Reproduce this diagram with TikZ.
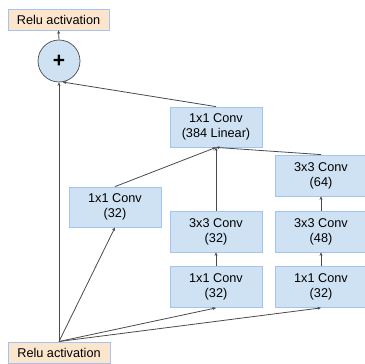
\documentclass[tikz,border=0pt]{standalone}
\usepackage{fontspec}
\setmainfont{Liberation Sans}
\usetikzlibrary{arrows.meta}
\definecolor{boxfill}{HTML}{CFE2F3}
\definecolor{boxline}{HTML}{A4C2F4}
\definecolor{relufill}{HTML}{FCE5CD}
\definecolor{linecol}{HTML}{4A4A4A}
\begin{document}
\begin{tikzpicture}[x=1pt,y=-1pt,
  conv/.style={draw=boxline, fill=boxfill, line width=0.8pt, minimum width=92pt, minimum height=40pt, inner sep=0pt, align=center, font=\fontsize{12.7}{15}\selectfont},
  relu/.style={draw=boxline, fill=relufill, line width=0.8pt, minimum width=101pt, minimum height=21pt, inner sep=0pt, font=\fontsize{12.7}{15}\selectfont},
  conn/.style={draw=linecol, line width=0.8pt, -{Stealth[length=3.5pt,width=3pt]}}]
\useasboundingbox (0,0) rectangle (364,364);
\fill[white] (0,0) rectangle (364,364);
\node[relu] (rtop) at (58.5,19.5) {Relu activation};
\node[circle, draw=linecol, fill=boxfill, line width=0.7pt, minimum size=42pt, inner sep=0pt, font=\fontsize{21}{21}\selectfont\bfseries] (plus) at (59,61) {+};
\node[conv] (c384) at (216,127) {1x1 Conv\\(384 Linear)};
\node[conv] (cl) at (115,207) {1x1 Conv\\(32)};
\node[conv, minimum height=41pt] (c33a) at (216,231.5) {3x3 Conv\\(32)};
\node[conv, minimum height=41pt] (c11a) at (216,287) {1x1 Conv\\(32)};
\node[conv, minimum height=41pt, minimum width=95pt] (c64) at (322.5,175.5) {\hspace*{-3pt}3x3 Conv\\\hspace*{-3pt}(64)};
\node[conv, minimum height=41pt, minimum width=95pt] (c48) at (322.5,231.5) {\hspace*{-3pt}3x3 Conv\\\hspace*{-3pt}(48)};
\node[conv, minimum height=41pt, minimum width=95pt] (c11b) at (322.5,287) {\hspace*{-3pt}1x1 Conv\\\hspace*{-3pt}(32)};
\node[relu, minimum width=102pt] (rbot) at (59,352.5) {Relu activation};
\coordinate (src) at (59,341.5);
\coordinate (rtopin) at (321,266.5);
\coordinate (rmid) at (321,252);
\coordinate (rmidtop) at (321,211);
\coordinate (rtop64) at (321,196);
\coordinate (r64n) at (321,155);
\draw[conn] (plus.north) -- (rtop.south);
\draw[conn] (src) -- (plus.south);
\draw[conn] (src) -- (cl.south);
\draw[conn] (src) -- (c11a.south);
\draw[conn] (src) -- (c11b.south -| rtopin);
\draw[conn] (c11a) -- (c33a);
\draw[conn] (c33a) -- (c384.south);
\draw[conn] (c11b.north -| rtopin) -- (c48.south -| rtopin);
\draw[conn] (c48.north -| rtopin) -- (c64.south -| rtopin);
\draw[conn] (cl.north) -- (c384.south);
\draw[conn] (c64.north -| rtopin) -- (c384.south);
\draw[conn] (c384.north) -- (plus.-80);
\end{tikzpicture}
\end{document}
